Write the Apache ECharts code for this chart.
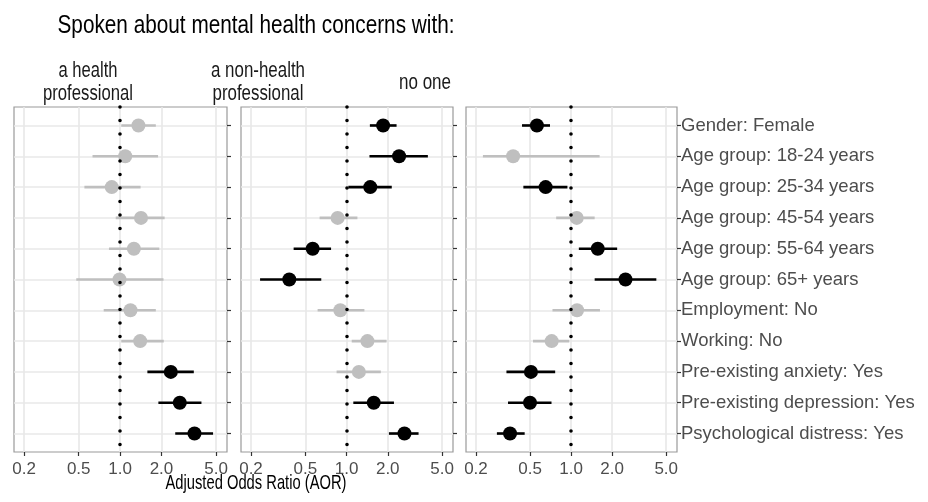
<!DOCTYPE html>
<html>
<head>
<meta charset="utf-8">
<script src="https://cdn.jsdelivr.net/npm/echarts@6/dist/echarts.min.js"></script>
<style>
html,body{margin:0;padding:0;background:#fff;}
#c{width:928px;height:502px;}
</style>
</head>
<body>
<div id="c"></div>
<script>
// ---- data ----
const categories = [
  'Gender: Female',
  'Age group: 18-24 years',
  'Age group: 25-34 years',
  'Age group: 45-54 years',
  'Age group: 55-64 years',
  'Age group: 65+ years',
  'Employment: No',
  'Working: No',
  'Pre-existing anxiety: Yes',
  'Pre-existing depression: Yes',
  'Psychological distress: Yes'
];
const xTicks = [0.2, 0.5, 1.0, 2.0, 5.0];

// a health professional
const hpEst  = [1.36, 1.09, 0.87, 1.42, 1.26, 0.99, 1.19, 1.40, 2.34, 2.72, 3.48];
const hpLow  = [1.02, 0.63, 0.55, 0.93, 0.83, 0.48, 0.76, 1.02, 1.58, 1.90, 2.52];
const hpHigh = [1.82, 1.89, 1.41, 2.11, 1.93, 2.07, 1.82, 2.08, 3.44, 3.91, 4.75];
const hpSig  = [0, 0, 0, 0, 0, 0, 0, 0, 1, 1, 1];

// a non-health professional
const nhEst  = [1.85, 2.42, 1.49, 0.86, 0.565, 0.381, 0.90, 1.42, 1.23, 1.58, 2.65];
const nhLow  = [1.48, 1.47, 1.03, 0.635, 0.41, 0.233, 0.614, 1.09, 0.845, 1.12, 2.04];
const nhHigh = [2.32, 3.93, 2.14, 1.20, 0.77, 0.653, 1.35, 1.96, 1.78, 2.22, 3.36];
const nhSig  = [1, 1, 1, 0, 1, 1, 0, 0, 0, 1, 1];

// no one
const noEst  = [0.561, 0.375, 0.65, 1.10, 1.57, 2.51, 1.106, 0.72, 0.507, 0.499, 0.356];
const noLow  = [0.436, 0.225, 0.446, 0.777, 1.14, 1.49, 0.73, 0.525, 0.335, 0.344, 0.285];
const noHigh = [0.70, 1.62, 0.94, 1.49, 2.18, 4.23, 1.63, 0.97, 0.764, 0.718, 0.456];
const noSig  = [1, 0, 1, 0, 1, 1, 0, 0, 1, 1, 1];

const panelTitles = [['a health', 'professional'], ['a non-health', 'professional'], ['no one']];
const mainTitle = 'Spoken about mental health concerns with:';
const xTitle = 'Adjusted Odds Ratio (AOR)';

// ---- layout ----
const FONT = '"Liberation Sans", Arial, sans-serif';
const BLACK = '#000000';
const GREY = '#bfbfbf';
const GRIDC = '#e8e8e8';
const grids = [
  {left: 14, top: 107, width: 213, height: 345},
  {left: 241, top: 107, width: 212, height: 345},
  {left: 466, top: 107, width: 211, height: 345}
];
const panels = [
  [hpEst, hpLow, hpHigh, hpSig],
  [nhEst, nhLow, nhHigh, nhSig],
  [noEst, noLow, noHigh, noSig]
];
const rowIdx = categories.map((c, i) => i);

const option = {
  animation: false,
  backgroundColor: '#ffffff',
  grid: grids.map(g => Object.assign({show: true, borderColor: '#9a9a9a', borderWidth: 1.2, backgroundColor: 'transparent'}, g)),
  xAxis: grids.map((g, k) => ({
    type: 'log', logBase: 10, gridIndex: k, min: 0.169, max: 6.0, position: 'bottom',
    axisLine: {show: false, onZero: false},
    axisTick: {show: true, length: 4, customValues: xTicks, lineStyle: {color: '#333333', width: 1.2}},
    axisLabel: {show: true, customValues: xTicks, margin: 9, color: '#4d4d4d', fontSize: 17, fontFamily: FONT,
      formatter: v => Number(v).toFixed(1)},
    splitLine: {show: false},
    minorSplitLine: {show: false}
  })),
  yAxis: grids.map((g, k) => ({
    type: 'value', gridIndex: k, inverse: true, min: -0.6, max: 10.6, position: 'right',
    axisLine: {show: false, onZero: false},
    axisTick: {show: true, length: 4, customValues: rowIdx, lineStyle: {color: '#333333', width: 1.2}},
    axisLabel: {show: k === 2, customValues: rowIdx, margin: 4, color: '#4d4d4d', fontSize: 18.5, fontFamily: FONT,
      formatter: v => categories[Math.round(v)] || ''},
    splitLine: {show: true, lineStyle: {color: GRIDC, width: 1.6}}
  })),
  series: []
};

panels.forEach((p, k) => {
  const [est, low, high, sig] = p;
  // vertical grid lines at the x tick values (kept underneath the marks)
  option.series.push({
    type: 'line', xAxisIndex: k, yAxisIndex: k, z: 1, data: [],
    markLine: {
      z: 1, silent: true, symbol: ['none', 'none'], label: {show: false},
      lineStyle: {color: GRIDC, width: 1.6, type: 'solid', opacity: 1},
      data: xTicks.map(v => ({xAxis: v}))
    }
  });
  option.series.push({
    type: 'custom', xAxisIndex: k, yAxisIndex: k, z: 3,
    encode: {x: [0, 1], y: 2},
    data: categories.map((c, i) => [low[i], high[i], i, sig[i]]),
    renderItem: (params, api) => {
      const a = api.coord([api.value(0), api.value(2)]);
      const b = api.coord([api.value(1), api.value(2)]);
      return {type: 'line', shape: {x1: a[0], y1: a[1], x2: b[0], y2: b[1]},
        style: {stroke: api.value(3) ? BLACK : GREY, lineWidth: 2.6}};
    }
  });
  option.series.push({
    type: 'scatter', xAxisIndex: k, yAxisIndex: k, z: 4,
    symbol: 'circle', symbolSize: 14,
    data: categories.map((c, i) => ({value: [est[i], i], itemStyle: {color: sig[i] ? BLACK : GREY, opacity: 1}})),
    itemStyle: {opacity: 1},
    emphasis: {disabled: true}
  });
  option.series.push({
    type: 'line', xAxisIndex: k, yAxisIndex: k, z: 6, data: [],
    markLine: {
      z: 6, silent: true, symbol: ['none', 'none'], label: {show: false},
      lineStyle: {color: '#000000', width: 3.6, type: [0, 13.5], cap: 'round', opacity: 1},
      data: [{xAxis: 1}]
    }
  });
});

// text helper: horizontally condensed to a target width (the reference text is narrow)
const measureCtx = document.createElement('canvas').getContext('2d');
function txt(x, y, s, size, fill, valign, targetW, z) {
  const font = size + 'px ' + FONT;
  measureCtx.font = font;
  const w = measureCtx.measureText(s).width;
  const sx = targetW ? targetW / w : 1;
  return {type: 'text', x: x, y: y, z: z || 10, scaleX: sx, scaleY: 1,
    style: {text: s, font: font, fill: fill, align: 'center', verticalAlign: valign, textAlign: 'center', textVerticalAlign: valign}};
}

option.graphic = [
  txt(256, 39, mainTitle, 25, '#000000', 'bottom', 397),
  txt(88, 82, panelTitles[0][0], 22, '#1a1a1a', 'bottom', 59),
  txt(88, 105, panelTitles[0][1], 22, '#1a1a1a', 'bottom', 90),
  txt(258, 82, panelTitles[1][0], 22, '#1a1a1a', 'bottom', 94),
  txt(258, 105, panelTitles[1][1], 22, '#1a1a1a', 'bottom', 91),
  txt(425, 94, panelTitles[2][0], 22, '#1a1a1a', 'bottom', 52),
  txt(256, 494, xTitle, 21, '#000000', 'bottom', 181, 60)
];

const chart = echarts.init(document.getElementById('c'), null, {renderer: 'canvas'});
chart.setOption(option);
</script>
</body>
</html>
